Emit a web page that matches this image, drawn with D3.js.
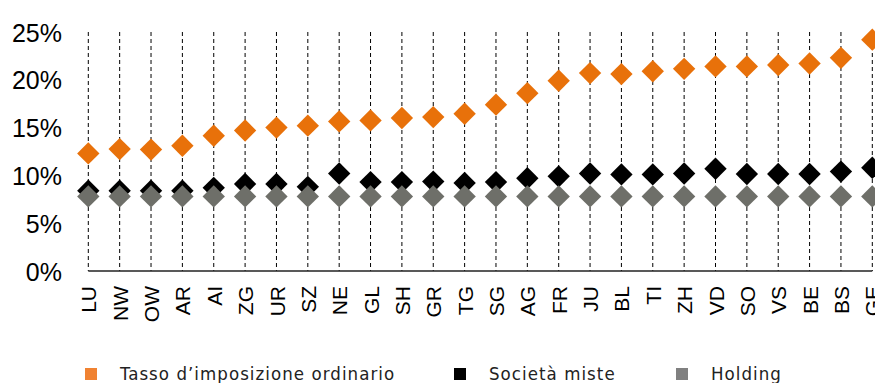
<!DOCTYPE html>
<html>
<head>
<meta charset="utf-8">
<script src="https://cdn.jsdelivr.net/npm/d3@7"></script>
<style>
  html, body { margin: 0; padding: 0; background: #fff; overflow: hidden; }
  svg { display: block; }
</style>
</head>
<body>
<svg id="chart" width="875" height="383"></svg>
<script>
const cantons = ["LU","NW","OW","AR","AI","ZG","UR","SZ","NE","GL","SH","GR","TG","SG","AG","FR","JU","BL","TI","ZH","VD","SO","VS","BE","BS","GE"];
const ordinario = [12.3,12.75,12.7,13.1,14.15,14.7,15.0,15.2,15.65,15.75,16.0,16.1,16.45,17.4,18.6,19.9,20.7,20.6,20.9,21.15,21.4,21.4,21.55,21.7,22.3,24.2];
const miste = [8.4,8.4,8.4,8.4,8.7,9.1,9.1,8.8,10.2,9.3,9.3,9.35,9.2,9.3,9.7,9.9,10.2,10.1,10.1,10.2,10.7,10.15,10.15,10.15,10.4,10.8];
const holding = [7.8,7.8,7.8,7.8,7.8,7.8,7.8,7.8,7.8,7.8,7.8,7.8,7.8,7.8,7.8,7.8,7.8,7.8,7.8,7.8,7.8,7.8,7.8,7.8,7.8,7.8];
const yTicks = [0,5,10,15,20,25];
const seriesNames = ["Tasso d\u2019imposizione ordinario","Società miste","Holding"];
const markerColors = ["#E8710A","#000000","#6E6F69"];
const legendColors = ["#F08232","#000000","#808080"];

const svg = d3.select("#chart");
const x = d3.scalePoint().domain(cantons).range([88.3, 872.3]).padding(0);
const y = d3.scaleLinear().domain([0,25]).range([271, 32]);

// dashed vertical gridlines
svg.append("g").selectAll("line").data(cantons).join("line")
  .attr("x1", d => x(d)).attr("x2", d => x(d))
  .attr("y1", y(25)).attr("y2", y(0))
  .attr("stroke", "#000").attr("stroke-width", 1)
  .attr("stroke-dasharray", "4,3");

// y axis labels
const yAxis = d3.axisLeft(y).tickValues(yTicks).tickSize(0).tickPadding(0).tickFormat(d => d + "%");
svg.append("g").attr("transform", "translate(62,0)").call(yAxis)
  .call(g => g.select(".domain").remove())
  .call(g => g.selectAll("text")
      .attr("font-family", "'Liberation Sans', Arial, sans-serif")
      .attr("font-size", 25).attr("fill", "#000").attr("dy", "0.36em"));

// x axis
const xAxis = d3.axisBottom(x).tickSize(0).tickPadding(0);
svg.append("g").attr("transform", `translate(0,${y(0)})`).call(xAxis)
  .call(g => g.select(".domain").attr("stroke", "#222").attr("stroke-width", 1.5).attr("d", `M${x(cantons[0])},0H${x(cantons[cantons.length-1])}`))
  .call(g => g.selectAll("text")
      .attr("font-family", "'Liberation Sans', Arial, sans-serif")
      .attr("font-size", 21).attr("fill", "#000")
      .attr("text-anchor", "end")
      .attr("transform", "translate(0,15) rotate(-90)")
      .attr("x", 0).attr("y", 0).attr("dy", "0.36em"));

// markers
const sym = d3.symbol().type(d3.symbolSquare).size(250);
const data = [ordinario, miste, holding];
data.forEach((vals, si) => {
  svg.append("g").selectAll("path").data(vals).join("path")
    .attr("d", sym)
    .attr("transform", (v, i) => `translate(${x(cantons[i])},${y(v)}) rotate(45)`)
    .attr("fill", markerColors[si]);
});

// legend
const legX = [85, 454, 676];
const legG = svg.append("g");
seriesNames.forEach((n, i) => {
  legG.append("rect").attr("x", legX[i]).attr("y", 368).attr("width", 12).attr("height", 12).attr("fill", legendColors[i]);
  legG.append("text").attr("x", legX[i] + 35).attr("y", 380)
    .attr("font-family", "'DejaVu Sans Condensed', 'Liberation Sans Narrow', sans-serif")
    .attr("font-size", 18.5).attr("letter-spacing", 1.05).attr("fill", "#222").text(n);
});
</script>
</body>
</html>
